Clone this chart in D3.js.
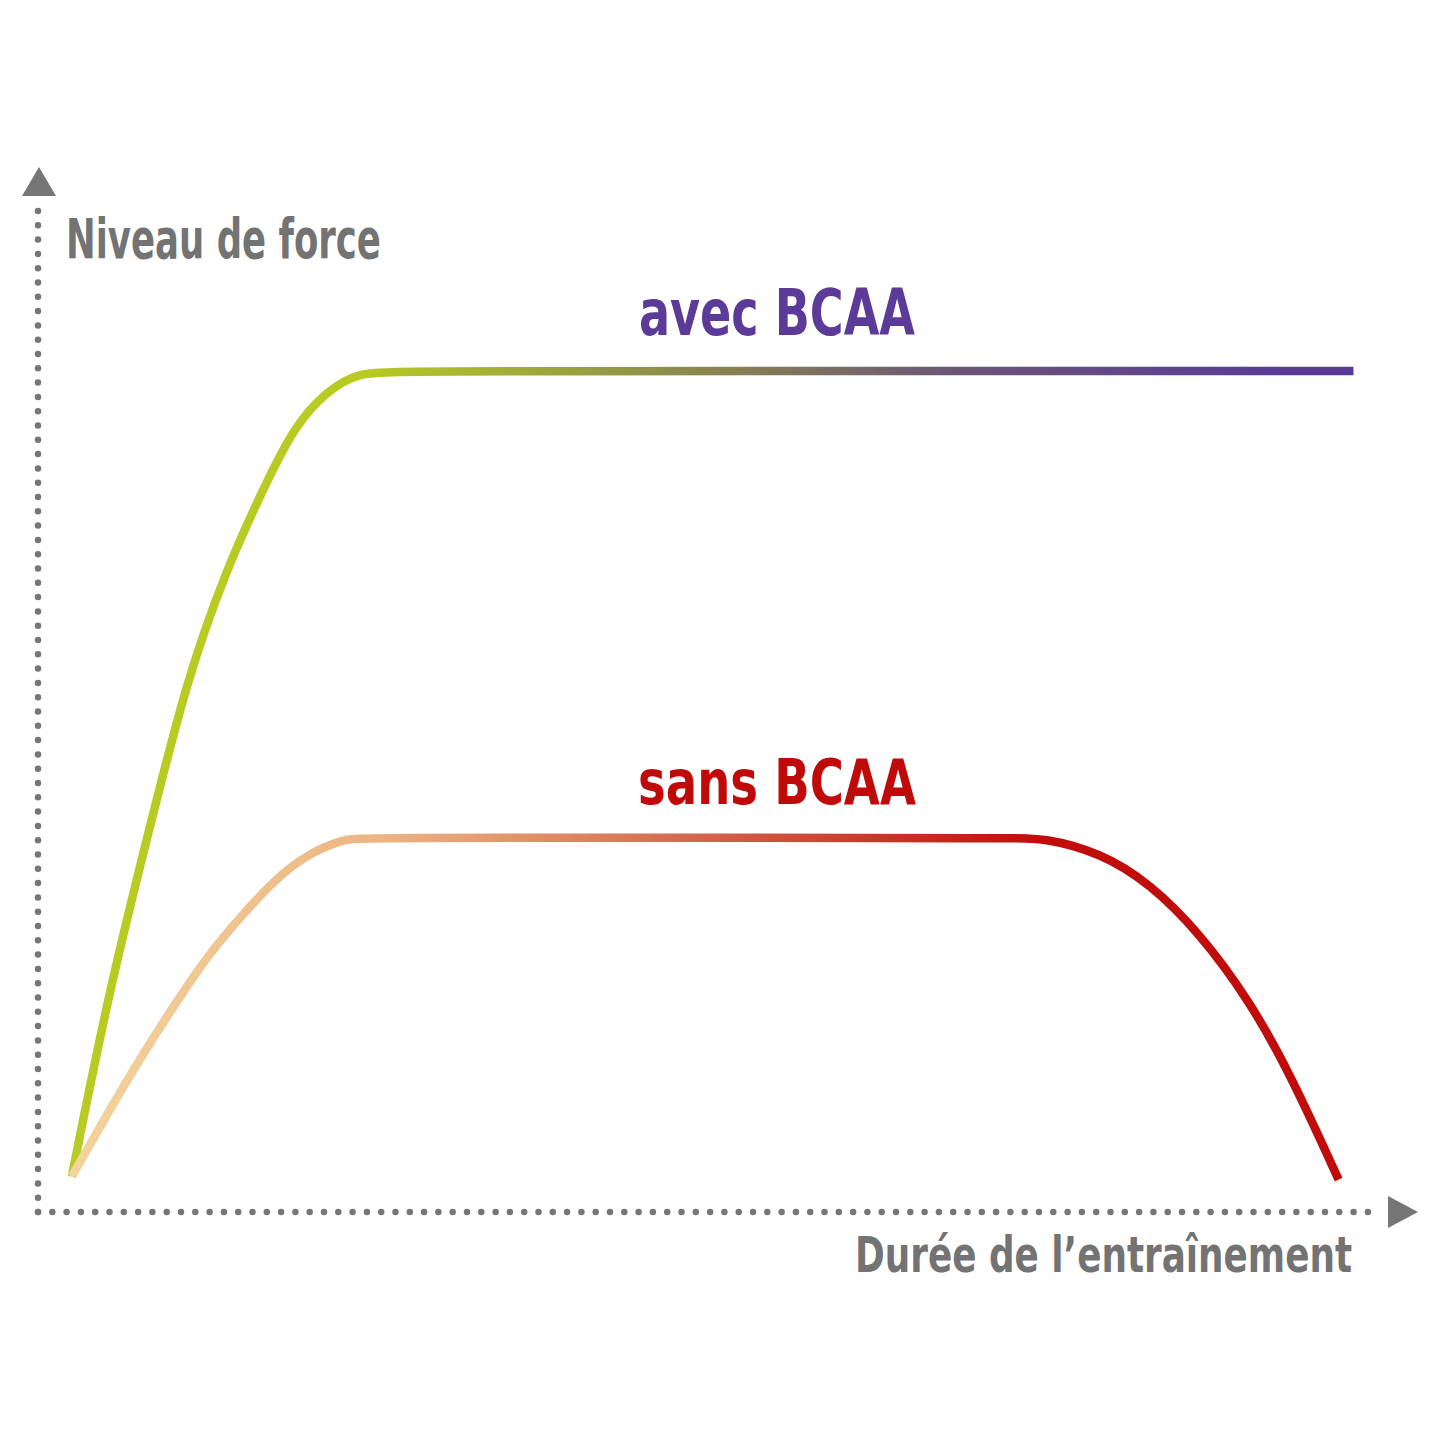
<!DOCTYPE html>
<html>
<head>
<meta charset="utf-8">
<script src="https://cdn.jsdelivr.net/npm/d3@7"></script>
<style>
  html, body { margin: 0; padding: 0; background: #fff; }
  .axisLabel { fill: #737373; font-family: "Liberation Sans Narrow", "DejaVu Sans Condensed", sans-serif; font-weight: bold; }
  .seriesLabel { font-family: "Liberation Sans Narrow", "DejaVu Sans Condensed", sans-serif; font-weight: bold; }
  .line { fill: none; stroke-width: 8.5; stroke-linecap: butt; stroke-linejoin: round; }
  .dots { fill: none; stroke: #767676; stroke-width: 6.5; stroke-linecap: round; stroke-dasharray: 0 14.3; }
</style>
</head>
<body>
<script>
// values, in "duration" (x) and "force level" (y) units 0..100
const avecX = [2.5, 5.3, 8.4, 11.0, 14.0, 16.4, 18.9, 21.4, 23.8, 26.8, 97.3];
const avecY = [3.5, 22.2, 38.7, 52.6, 63.7, 70.7, 77.6, 81.2, 83.0, 83.1, 83.1];

const sansX = [2.5, 5.3, 7.8, 10.3, 12.7, 15.2, 17.7, 20.1, 22.6, 23.8, 50.0, 72.0, 74.3, 78.6, 82.2, 85.9, 89.6, 92.6, 96.2];
const sansY = [3.5, 10.1, 15.7, 20.9, 25.6, 29.5, 33.1, 35.5, 36.8, 37.0, 37.0, 36.9, 37.0, 35.5, 32.5, 27.6, 20.9, 13.7, 3.2];

const labels = {
  yAxis: "Niveau de force",
  xAxis: "Durée de l\u2019entraînement",
  avec: "avec BCAA",
  sans: "sans BCAA"
};

let width = 1440, height = 1440;

let xScale = d3.scaleLinear()
  .domain([0, 100])
  .range([38, 1390]);

let yScale = d3.scaleLinear()
  .domain([0, 100])
  .range([1212, 200]);

let line = d3.line()
  .x(function(d) { return xScale(d[0]); })
  .y(function(d) { return yScale(d[1]); })
  .curve(d3.curveBasis);

let svg = d3.select("body").append("svg")
  .attr("width", width)
  .attr("height", height);

// gradients for the two curves
let defs = svg.append("defs");

let gAvec = defs.append("linearGradient")
  .attr("id", "gradAvec")
  .attr("gradientUnits", "userSpaceOnUse")
  .attr("x1", xScale(23.8)).attr("y1", 0)
  .attr("x2", xScale(92)).attr("y2", 0);
gAvec.append("stop").attr("offset", 0).attr("stop-color", "#b7cb22");
gAvec.append("stop").attr("offset", 0.35).attr("stop-color", "#8c8a4c");
gAvec.append("stop").attr("offset", 0.65).attr("stop-color", "#6c5478");
gAvec.append("stop").attr("offset", 1).attr("stop-color", "#5a3a96");

let gSans = defs.append("linearGradient")
  .attr("id", "gradSans")
  .attr("gradientUnits", "userSpaceOnUse")
  .attr("x1", xScale(2.5)).attr("y1", 0)
  .attr("x2", xScale(74)).attr("y2", 0);
gSans.append("stop").attr("offset", 0).attr("stop-color", "#f4d39c");
gSans.append("stop").attr("offset", 0.32).attr("stop-color", "#ecb583");
gSans.append("stop").attr("offset", 0.62).attr("stop-color", "#d76b4f");
gSans.append("stop").attr("offset", 1).attr("stop-color", "#c00d0c");

// dotted axes
svg.append("line")
  .attr("class", "dots")
  .attr("x1", xScale(0)).attr("y1", yScale(0))
  .attr("x2", xScale(0)).attr("y2", 203);

svg.append("line")
  .attr("class", "dots")
  .attr("x1", xScale(0)).attr("y1", yScale(0))
  .attr("x2", 1380).attr("y2", yScale(0));

// arrow heads
svg.append("path")
  .attr("d", "M" + (xScale(0) + 1) + ",167 L" + (xScale(0) + 18) + ",196 L" + (xScale(0) - 16) + ",196 Z")
  .attr("fill", "#767676");

svg.append("path")
  .attr("d", "M1418," + yScale(0) + " L1388," + (yScale(0) - 16) + " L1388," + (yScale(0) + 16) + " Z")
  .attr("fill", "#767676");

// curves
svg.append("path")
  .datum(d3.zip(avecX, avecY))
  .attr("class", "line")
  .attr("stroke", "url(#gradAvec)")
  .attr("d", line);

svg.append("path")
  .datum(d3.zip(sansX, sansY))
  .attr("class", "line")
  .attr("stroke", "url(#gradSans)")
  .attr("d", line);

// label squeezed horizontally (the original font is a condensed one)
// x is the left edge, or the right edge when anchor is "end"
function label(cls, x, y, txt, size, boxWidth, anchor, color) {
  let g = svg.append("g");
  let t = g.append("text")
    .attr("class", cls)
    .attr("font-size", size)
    .attr("text-anchor", anchor || "start")
    .text(txt);
  if (color) t.attr("fill", color);
  let w = t.node().getComputedTextLength();
  let sx = Math.min(1, boxWidth / w);
  g.attr("transform", "translate(" + x + "," + y + ") scale(" + sx + ",1)");
  return g;
}

// axis labels
label("axisLabel", 66, 258, labels.yAxis, 55, 315);
label("axisLabel", 1352, 1272, labels.xAxis, 50, 497, "end");

// series labels
label("seriesLabel", 639, 335, labels.avec, 64, 276, "start", "#5b3b97");
label("seriesLabel", 638, 804, labels.sans, 63, 278, "start", "#c00a0a");
</script>
</body>
</html>
